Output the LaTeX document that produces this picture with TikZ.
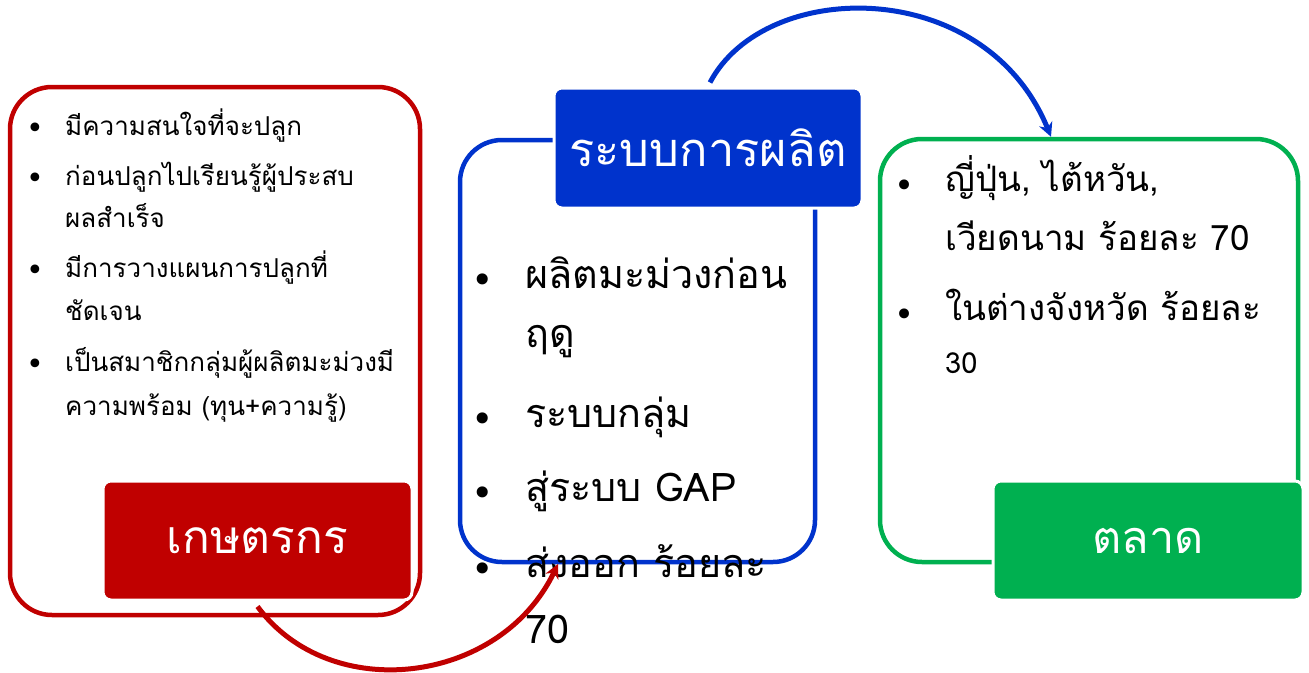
\documentclass[tikz,border=0pt]{standalone}
\usepackage{fontspec}
\setmainfont[Script=Thai]{Loma}
\newfontfamily\dv{DejaVu Sans}
\usetikzlibrary{arrows.meta}
\definecolor{cred}{RGB}{192,0,0}
\definecolor{cblue}{RGB}{0,51,204}
\definecolor{cgreen}{RGB}{0,176,80}
\tikzset{
  outline/.style={draw=#1, line width=4.5pt, rounded corners=42pt, fill=none},
  label/.style={fill=#1, draw=white, line width=3pt, rounded corners=8pt, text=white, inner sep=0pt},
  ln/.style={anchor=west, inner sep=0pt, text height=1em, text depth=0em},
  bul/.style={anchor=center, inner sep=0pt},
  conn/.style={line width=5pt, -{Stealth[length=14pt,width=14pt]}}
}
\newcommand{\bsm}{{\dv\fontsize{30}{30}\selectfont •}}
\newcommand{\bbg}{{\dv\fontsize{38}{38}\selectfont •}}
\newcommand{\bmd}{{\dv\fontsize{34}{34}\selectfont •}}
\begin{document}
\begin{tikzpicture}[x=1pt,y=-1pt]
\useasboundingbox (0,0) rectangle (1309,672);
% outlines
\node[outline=cred, minimum width=410pt, minimum height=528pt] (fbox) at (215,351) {};
\node[outline=cblue, minimum width=355pt, minimum height=422pt] (pbox) at (637.5,351) {};
\node[outline=cgreen, minimum width=418pt, minimum height=423pt] (mbox) at (1089,350.5) {};
% labels
\node[label=cred, minimum width=309pt, minimum height=119pt, font=\fontsize{46}{54}\selectfont] (flab) at (257.5,540.5) {เกษตรกร};
\node[label=cblue, minimum width=308pt, minimum height=120pt, font=\fontsize{47}{54}\selectfont] (plab) at (708,148) {ระบบการผลิต};
\node[label=cgreen, minimum width=310pt, minimum height=119pt, font=\fontsize{45}{54}\selectfont] (mlab) at (1148,540.5) {ตลาด};
% left text
\begin{scope}[font=\fontsize{26}{30}\selectfont]
\node[bul] (fb1) at (35,131) {\bsm};
\node[ln] (f1) at (65,130) {มีความสนใจที่จะปลูก};
\node[bul] (fb2) at (35,181) {\bsm};
\node[ln] (f2a) at (65,180) {ก่อนปลูกไปเรียนรู้ผู้ประสบ};
\node[ln] (f2b) at (65,222) {ผลสำเร็จ};
\node[bul] (fb3) at (35,273) {\bsm};
\node[ln] (f3a) at (65,272) {มีการวางแผนการปลูกที่};
\node[ln] (f3b) at (65,315) {ชัดเจน};
\node[bul] (fb4) at (35,367) {\bsm};
\node[ln] (f4a) at (65,366) {เป็นสมาชิกกลุ่มผู้ผลิตมะม่วงมี};
\node[ln] (f4b) at (65,410) {ความพร้อม (ทุน+ความรู้)};
\end{scope}
% middle text
\begin{scope}[font=\fontsize{39.5}{44}\selectfont]
\node[bul] (pb1) at (483,284) {\bbg};
\node[ln] (p1a) at (525,283) {ผลิตมะม่วงก่อน};
\node[ln] (p1b) at (525,342) {ฤดู};
\node[bul] (pb2) at (483,423) {\bbg};
\node[ln] (p2) at (525,422) {ระบบกลุ่ม};
\node[bul] (pb3) at (483,497) {\bbg};
\node[ln] (p3) at (525,496) {สู่ระบบ GAP};
\node[bul] (pb4) at (483,573) {\bbg};
\node[ln] (p4a) at (525,572) {ส่งออก ร้อยละ};
\node[ln] (p4b) at (525,638) {70};
\end{scope}
% right text
\begin{scope}[font=\fontsize{35}{40}\selectfont]
\node[bul] (mb1) at (905,189) {\bmd};
\node[ln] (m1a) at (945,186) {ญี่ปุ่น, ไต้หวัน,};
\node[ln] (m1b) at (945,245) {เวียดนาม ร้อยละ 70};
\node[bul] (mb2) at (905,318) {\bmd};
\node[ln] (m2a) at (945,315) {ในต่างจังหวัด ร้อยละ};
\node[ln, font=\fontsize{29}{32}\selectfont] (m2b) at (945,368) {30};
\end{scope}
% connectors
\draw[conn, draw=cblue] (plab.north) ++(2,-4) coordinate (bs) (bs) .. controls (765,-22) and (985,-25) .. (mbox.north -| 1051,0);
\draw[conn, draw=cred] (flab.south) ++(0,5) coordinate (rs) (rs) .. controls (330,705) and (500,685) .. (558,564);
\end{tikzpicture}
\end{document}
